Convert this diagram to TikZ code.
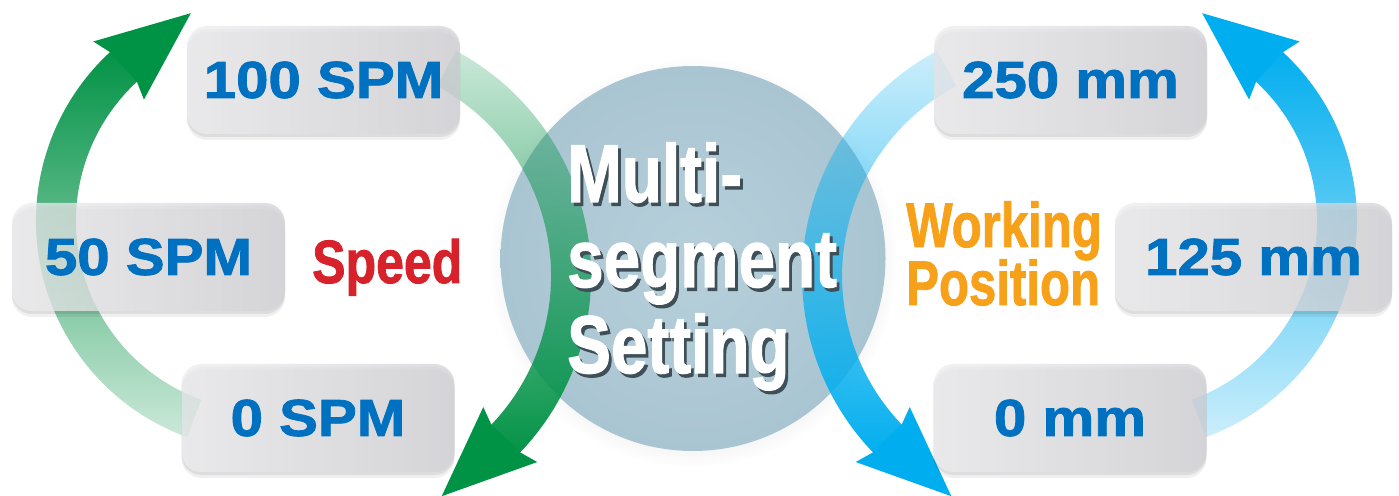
\documentclass[tikz,border=0pt]{standalone}
\usepackage{graphicx}
\usepackage{fontspec}
\setmainfont{Liberation Sans}
\newfontfamily\heavyfont{Liberation Sans Bold}[FakeBold=1.5]
\usetikzlibrary{calc,fadings,shadows}

\definecolor{arrowgreen}{HTML}{009245}
\definecolor{arrowblue}{HTML}{00AEEF}
\definecolor{valueblue}{HTML}{0070C0}
\definecolor{speedred}{HTML}{D7222B}
\definecolor{posorange}{HTML}{F7A11A}
\definecolor{hubin}{HTML}{B6CFDB}
\definecolor{hubout}{HTML}{AAC5D2}
\definecolor{boxlight}{HTML}{EEEEF0}
\definecolor{boxdark}{HTML}{D2D2D7}
\definecolor{hubshadow}{HTML}{3F4F58}

\tikzfading[name=fadetoptail, top color=transparent!80, middle color=transparent!25, bottom color=transparent!0]
\tikzfading[name=fadebottomtail, top color=transparent!0, middle color=transparent!5, bottom color=transparent!80]

\newcommand\wide[1]{\scalebox{1.12}[1]{#1}}
\newcommand\narrowtxt[2]{\scalebox{#1}[1]{#2}}
% white text with a dark drop shadow, in one box
\newcommand\shadowed[1]{%
  \makebox[0pt][l]{\hspace{3.5pt}\raisebox{-3.5pt}{\textcolor{hubshadow}{#1}}}%
  \textcolor{white}{#1}}

% one green/blue cycle: a fading tail arc and an arrow head on each side
\newcommand\cyclearrows[1]{%
  \draw[line width=40pt, draw=#1, path fading=fadebottomtail]
    (266,274) ++(250:210) arc[start angle=250, end angle=132.5, radius=210];
  \draw[line width=40pt, draw=#1, path fading=fadetoptail]
    (336,219) ++(62:235) arc[start angle=62, end angle=-44, radius=235];
  \begin{scope}[shift={($(266,274)+(132.5:210)$)}, rotate=132.5]
    \fill[#1] (20,1) -- (39,6) -- (-6,-85) -- (-38,8) -- (-20,1) -- cycle;
  \end{scope}
  \begin{scope}[shift={($(336,219)+(-44:235)$)}, rotate=-44]
    \fill[#1] (20,1) -- (39,6) -- (-6,-85) -- (-38,8) -- (-20,1) -- cycle;
  \end{scope}}

\tikzset{
  valuebox/.style={rectangle, rounded corners=20pt, minimum width=273pt, minimum height=108pt,
    left color=boxlight, right color=boxdark, fill opacity=0.75, text opacity=1,
    text=valueblue, font=\heavyfont\fontsize{52}{52}\selectfont, inner sep=0pt,
    drop shadow={shadow xshift=0pt, shadow yshift=-6pt, opacity=0.06, fill=black},
    drop shadow={shadow xshift=0pt, shadow yshift=-3pt, opacity=0.08, fill=black}},
  hubfont/.style={inner sep=0pt, anchor=base west, font=\heavyfont\fontsize{82}{82}\selectfont},
  labelfont/.style={inner sep=0pt, anchor=base west},
}

\begin{document}
\begin{tikzpicture}[x=1pt, y=1pt]
\useasboundingbox (0,0) rectangle (1399,495);
\fill[white] (0,0) rectangle (1399,495);

% central disc
\node[circle, minimum size=385pt, inner sep=0pt, inner color=hubin, outer color=hubout,
  circular drop shadow={shadow xshift=0pt, shadow yshift=-4pt, shadow scale=1.06, opacity=0.12}]
  (hub) at (693,236.5) {};

% arrows
\cyclearrows{arrowgreen}
\begin{scope}[shift={(1393,0)}, xscale=-1]
  \cyclearrows{arrowblue}
\end{scope}

% value boxes
\node[valuebox] (spm100) at (323.5,415) {\wide{100 SPM}};
\node[valuebox] (spm50)  at (148.5,238) {\wide{50 SPM}};
\node[valuebox] (spm0)   at (318,77)    {\wide{0 SPM}};
\node[valuebox] (mm250)  at (1070.5,415) {\wide{250 mm}};
\node[valuebox, minimum width=277pt] (mm125) at (1253.5,238) {\wide{125 mm}};
\node[valuebox] (mm0)    at (1070,77)   {\wide{0 mm}};

% side labels
\node[labelfont, text=speedred, font=\heavyfont\fontsize{61}{61}\selectfont] (speed) at (312,212) {\narrowtxt{0.82}{Speed}};
\node[labelfont, text=posorange, font=\heavyfont\fontsize{63}{63}\selectfont] (working) at (906,248) {\narrowtxt{0.78}{Working}};
\node[labelfont, text=posorange, font=\heavyfont\fontsize{63}{63}\selectfont] (position) at (906,190) {\narrowtxt{0.78}{Position}};

% hub text
\node[hubfont] (multi)   at (567,293) {\narrowtxt{0.8}{\shadowed{Multi-}}};
\node[hubfont] (segment) at (567,208) {\narrowtxt{0.8}{\shadowed{segment}}};
\node[hubfont] (setting) at (567,122) {\narrowtxt{0.8}{\shadowed{Setting}}};
\end{tikzpicture}
\end{document}
